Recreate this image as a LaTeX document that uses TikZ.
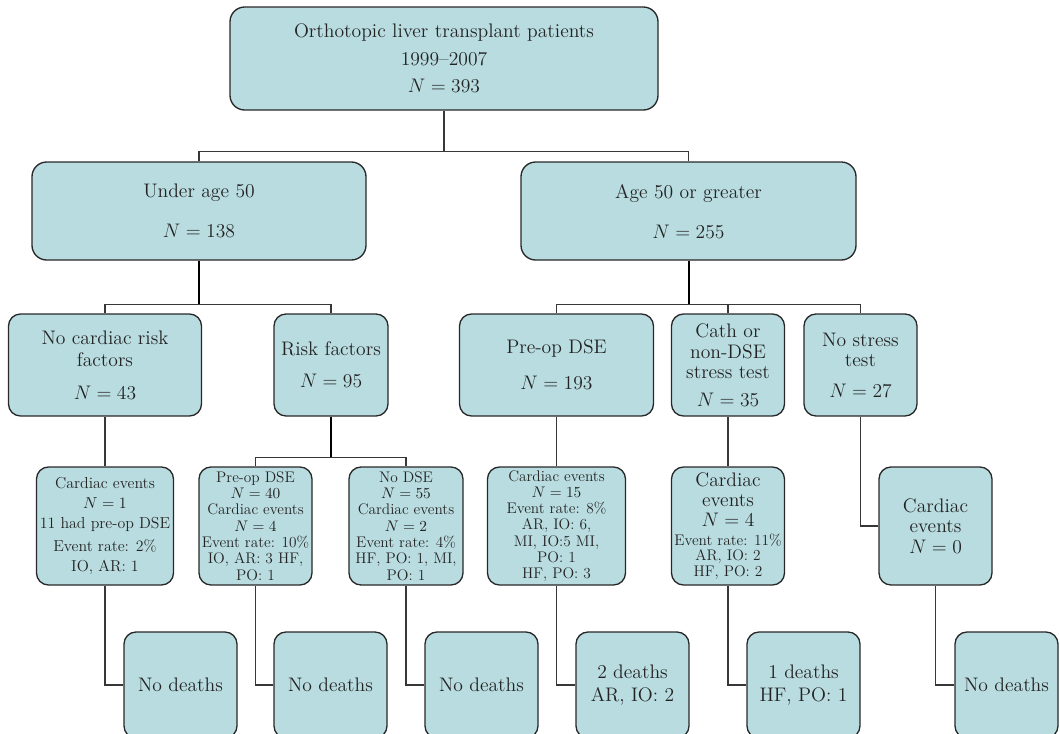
\RequirePackage{fix-cm}
\documentclass[tikz,border=0pt]{standalone}
\usetikzlibrary{calc}
\definecolor{boxfill}{RGB}{185,220,224}
\definecolor{boxline}{RGB}{40,40,40}
\definecolor{conn}{RGB}{55,55,55}
\definecolor{txt}{RGB}{35,35,35}
\begin{document}
\begin{tikzpicture}[x=0.75pt,y=-0.75pt,
  box/.style={draw=boxline, fill=boxfill, line width=1pt, rounded corners=9pt,
    align=center, inner sep=0pt, text=txt},
  wh/.style 2 args={minimum width=#1*0.75pt, minimum height=#2*0.75pt},
  big/.style={font=\fontsize{14.7}{#1}\selectfont},
  small/.style={font=\fontsize{11.5}{#1}\selectfont},
  link/.style={draw=conn, line width=0.9pt},
  trunk/.style={draw=black, line width=1.5pt},
]
\useasboundingbox (0,0) rectangle (1060,733);

% level 1 and 2
\node[box, rounded corners=11pt, wh={428}{103}, big=20.6pt] (root) at (444,58.5)
  {Orthotopic liver transplant patients\\1999--2007\\$N = 393$};
\node[box, rounded corners=11pt, wh={334}{98}, big=30pt] (under) at (199,211)
  {Under age 50\\$N = 138$};
\node[box, rounded corners=11pt, wh={335}{98}, big=30pt] (age) at (688.5,211)
  {Age 50 or greater\\$N = 255$};

% level 3
\node[box, wh={193}{102}, big=16.5pt] (nocard) at (105,365)
  {No cardiac risk\\factors\\[8.25pt]$N = 43$};
\node[box, wh={114}{102}, big=24pt] (risk) at (331,365)
  {Risk factors\\$N = 95$};
\node[box, wh={194}{102}, big=27pt] (preop) at (556.5,365)
  {Pre-op DSE\\$N = 193$};
\node[box, wh={113}{102}, big=15.4pt] (cath) at (728,365)
  {Cath or\\non-DSE\\stress test\\[5pt]$N = 35$};
\node[box, wh={113}{102}, big=15pt] (nost) at (860.5,365)
  {No stress\\test\\[8pt]$N = 27$};

% level 4
\node[box, wh={137}{118}, font=\fontsize{11.9}{15pt}\selectfont] (A) at (105,526)
  {Cardiac events\\$N = 1$\\11 had pre-op DSE\\[2.25pt]Event rate: 2\%\\IO, AR: 1};
\node[box, wh={113}{118}, small=12.2pt] (B) at (255.5,526)
  {Pre-op DSE\\$N = 40$\\Cardiac events\\$N = 4$\\Event rate: 10\%\\IO, AR: 3 HF,\\PO: 1};
\node[box, wh={114}{118}, small=12.2pt] (C) at (406,526)
  {No DSE\\$N = 55$\\Cardiac events\\$N = 2$\\Event rate: 4\%\\HF, PO: 1, MI,\\PO: 1};
\node[box, wh={138}{118}, small=12.2pt] (D) at (556.5,526)
  {Cardiac events\\$N = 15$\\Event rate: 8\%\\AR, IO: 6,\\MI, IO:5 MI,\\PO: 1\\HF, PO: 3};
\node[box, wh={113}{118}, big=15pt] (E) at (728,526)
  {Cardiac\\events\\$N = 4$\\[-1pt]{\fontsize{11.5}{12}\selectfont Event rate: 11\%}\\[-3.75pt]{\fontsize{11.5}{12}\selectfont AR, IO: 2}\\[-3pt]{\fontsize{11.5}{12}\selectfont HF, PO: 2}};
\node[box, wh={113}{118}, big=15pt] (F) at (935.5,526)
  {Cardiac\\events\\[1pt]$N = 0$};

% level 5
\node[box, wh={113}{106}, big=17.25pt] (G1) at (180.5,685) {No deaths};
\node[box, wh={113}{106}, big=17.25pt] (G2) at (330.5,685) {No deaths};
\node[box, wh={113}{106}, big=17.25pt] (G3) at (481.5,685) {No deaths};
\node[box, wh={113}{106}, big=17.25pt] (G4) at (632.5,685) {2 deaths\\AR, IO: 2};
\node[box, wh={113}{106}, big=17.25pt] (G5) at (803.5,685) {1 deaths\\HF, PO: 1};
\node[box, wh={103}{106}, big=17.25pt] (G6) at (1006.5,685) {No deaths};

% junctions
\coordinate (j1) at (444,152);
\coordinate (j2) at (199,305);
\coordinate (j3) at (688.5,305);
\coordinate (j4) at (331,458);

% connectors
\draw[link] (root.south) -- (j1);
\draw[link] (under.north) -- ++(0,-10) -| (age.north);

\draw[trunk] (under.south) -- (j2);
\draw[link] (nocard.north) -- ++(0,-9) -| (risk.north);
\draw[trunk] (age.south) -- (j3);
\draw[link] (preop.north) -- ++(0,-9) -| (nost.north);
\draw[link] (cath.north) -- ++(0,-9);

\draw[link] (nocard.south) -- (A.north);
\draw[trunk] (risk.south) -- (j4);
\draw[link] (B.north) -- ++(0,-9) -| (C.north);
\draw[link] (preop.south) -- (D.north);
\draw[link] (cath.south) -- (E.north);
\draw[link] (nost.south) |- (F.west);

\draw[link] (A.south) |- (G1.west);
\draw[link] (B.south) |- (G2.west);
\draw[link] (C.south) |- (G3.west);
\draw[link] (D.south) |- (G4.west);
\draw[link] (E.south) |- (G5.west);
\draw[link] (F.south) |- (G6.west);
\end{tikzpicture}
\end{document}
